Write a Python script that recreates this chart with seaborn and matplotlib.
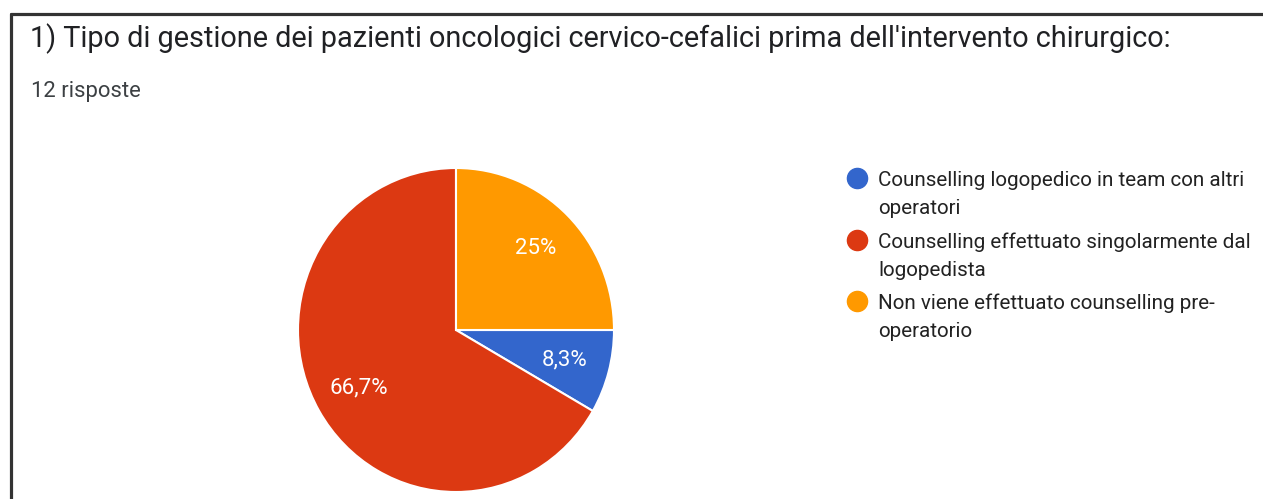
import matplotlib
matplotlib.use("Agg")
import matplotlib.pyplot as plt
import seaborn as sns
from matplotlib.lines import Line2D

# data
title = "1) Tipo di gestione dei pazienti oncologici cervico-cefalici prima dell'intervento chirurgico:"
subtitle = "12 risposte"
categories = [
    "Counselling logopedico in team con altri\noperatori",
    "Counselling effettuato singolarmente dal\nlogopedista",
    "Non viene effettuato counselling pre-\noperatorio",
]
counts = [1, 8, 3]
colors = ["#3366CC", "#DC3912", "#FF9900"]

sns.set_theme(style="white")
plt.rcParams['font.family'] = ['Roboto', 'DejaVu Sans']

W, H = 1263, 499
fig = plt.figure(figsize=(W / 100, H / 100), dpi=100)
fig.patch.set_facecolor("white")


def px(x, y):
    return x / W, 1 - y / H


def pct_fmt(p):
    s = f"{p:.1f}".replace(".", ",")
    if s.endswith(",0"):
        s = s[:-2]
    return s + "%"


# pie axes: centre (456, 330), radii 158 x 162 px (screenshot is slightly squashed)
cx, cy, rx, ry = 456, 330, 158, 162
ax = fig.add_axes([(cx - rx) / W, 1 - (cy + ry) / H, 2 * rx / W, 2 * ry / H])
wedges, texts, autotexts = ax.pie(
    counts,
    colors=sns.color_palette(colors),
    startangle=0,
    counterclock=False,
    autopct=pct_fmt,
    pctdistance=0.71,
    wedgeprops=dict(edgecolor="white", linewidth=1.5),
    textprops=dict(color="white", fontsize=16),
)
ax.set_aspect("auto")
ax.set_xlim(-1, 1)
ax.set_ylim(-1, 1)
ax.axis("off")

# title and subtitle
fig.text(*px(30, 47), title, fontsize=20.8, color="#202124", va="baseline", ha="left")
fig.text(*px(31, 97), subtitle, fontsize=15.8, color="#3c4043", va="baseline", ha="left")

# legend drawn by hand so that the dot sits on the first line
for i, (lab, col) in enumerate(zip(categories, colors)):
    base = 186 + i * 61.5
    fig.add_artist(Line2D([857 / W], [1 - (base - 8) / H], marker="o", markersize=14.5,
                          color=col, linestyle="none", transform=fig.transFigure))
    for j, line in enumerate(lab.split("\n")):
        fig.text(*px(878, base + j * 28), line, fontsize=14.9, color="#222222",
                 va="baseline", ha="left")

# frame lines (top and left)
fig.add_artist(Line2D([10.5 / W, 1], [1 - 13.5 / H, 1 - 13.5 / H], color="#333333",
                      linewidth=2.3, transform=fig.transFigure))
fig.add_artist(Line2D([10.5 / W, 10.5 / W], [1 - 13.5 / H, 0], color="#333333",
                      linewidth=2.3, transform=fig.transFigure))

fig.savefig("out.png", dpi=100)
